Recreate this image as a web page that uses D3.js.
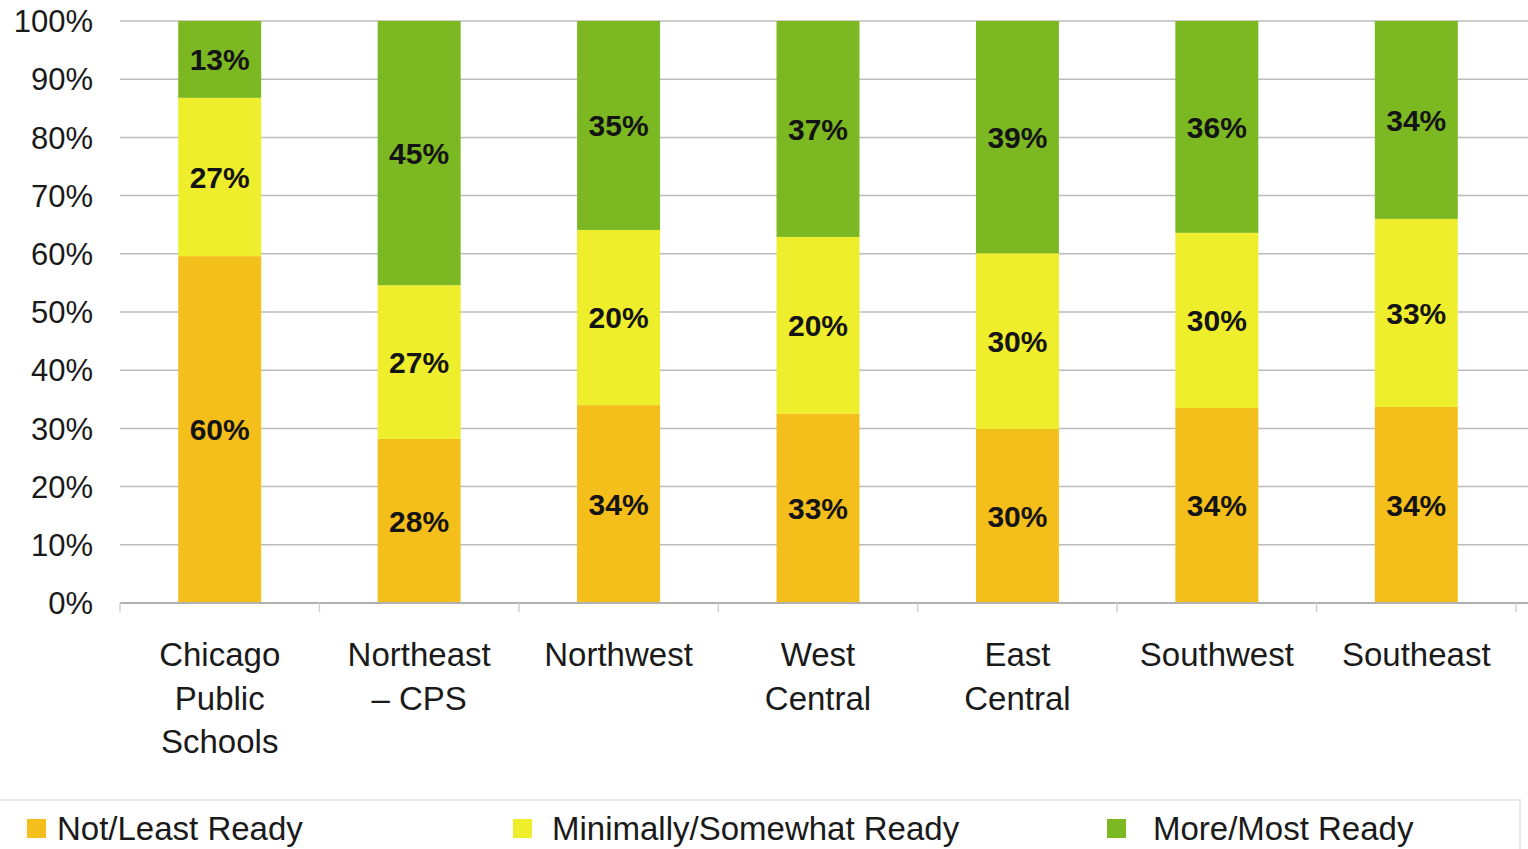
<!DOCTYPE html>
<html>
<head>
<meta charset="utf-8">
<script src="https://cdn.jsdelivr.net/npm/d3@7"></script>
<style>
  html, body { margin: 0; padding: 0; background: #fff; }
  svg { display: block; font-family: "Liberation Sans", Arial, sans-serif; }
</style>
</head>
<body>
<svg id="chart" width="1528" height="849"></svg>
<script>
// categories, each line of the axis label
var categories = ["Chicago Public Schools", "Northeast – CPS", "Northwest", "West Central", "East Central", "Southwest", "Southeast"];
var categoryLines = [["Chicago", "Public", "Schools"], ["Northeast", "– CPS"], ["Northwest"], ["West", "Central"], ["East", "Central"], ["Southwest"], ["Southeast"]];

// segment heights (percent)
var notReady = [59.6, 28.2, 34.0, 32.5, 29.9, 33.5, 33.7];
var minimallyReady = [27.2, 26.4, 30.1, 30.4, 30.2, 30.1, 32.3];
var moreReady = [13.2, 45.4, 35.9, 37.1, 39.9, 36.4, 34.0];

// printed labels (as shown on the chart)
var notReadyLabels = ["60%", "28%", "34%", "33%", "30%", "34%", "34%"];
var minimallyLabels = ["27%", "27%", "20%", "20%", "30%", "30%", "33%"];
var moreLabels = ["13%", "45%", "35%", "37%", "39%", "36%", "34%"];

var yTicks = [0, 10, 20, 30, 40, 50, 60, 70, 80, 90, 100];

var seriesNames = ["Not/Least Ready", "Minimally/Somewhat Ready", "More/Most Ready"];
var seriesColors = ["#f5bf1b", "#efee2c", "#7cb822"];

var svg = d3.select("#chart");

var x = d3.scaleBand()
    .domain(categories)
    .range([120, 1516])
    .paddingInner(0.584)
    .paddingOuter(0.292);

var y = d3.scaleLinear()
    .domain([0, 100])
    .range([603, 21]);

// build table for the stack
var table = categories.map(function(c, i) {
  return { cat: c, s0: notReady[i], s1: minimallyReady[i], s2: moreReady[i],
           l0: notReadyLabels[i], l1: minimallyLabels[i], l2: moreLabels[i] };
});
var stack = d3.stack().keys(["s0", "s1", "s2"]);
var layers = stack(table);

// gridlines
svg.append("g")
  .selectAll("line")
  .data(yTicks.filter(function(d) { return d > 0; }))
  .enter().append("line")
    .attr("x1", 120).attr("x2", 1528)
    .attr("y1", function(d) { return y(d); })
    .attr("y2", function(d) { return y(d); })
    .attr("stroke", "#bcbcbc")
    .attr("stroke-width", 1.5);

// y tick labels
svg.append("g")
  .selectAll("text")
  .data(yTicks)
  .enter().append("text")
    .attr("x", 93)
    .attr("y", function(d) { return y(d); })
    .attr("dy", "0.36em")
    .attr("text-anchor", "end")
    .attr("font-size", 31)
    .attr("fill", "#1a1a1a")
    .text(function(d) { return d + "%"; });

// bars
var layer = svg.append("g")
  .selectAll("g")
  .data(layers)
  .enter().append("g")
    .attr("fill", function(d, i) { return seriesColors[i]; });

layer.selectAll("rect")
  .data(function(d) { return d; })
  .enter().append("rect")
    .attr("x", function(d) { return x(d.data.cat); })
    .attr("width", x.bandwidth())
    .attr("y", function(d) { return y(d[1]); })
    .attr("height", function(d) { return y(d[0]) - y(d[1]); });

// data labels
layers.forEach(function(L, k) {
  svg.append("g")
    .selectAll("text")
    .data(L)
    .enter().append("text")
      .attr("x", function(d) { return x(d.data.cat) + x.bandwidth() / 2; })
      .attr("y", function(d) { return (y(d[0]) + y(d[1])) / 2; })
      .attr("dy", "0.36em")
      .attr("text-anchor", "middle")
      .attr("font-size", 30)
      .attr("font-weight", "bold")
      .attr("fill", "#141414")
      .text(function(d) { return d.data["l" + k]; });
});

// baseline axis + ticks between categories
svg.append("line")
  .attr("x1", 120).attr("x2", 1528)
  .attr("y1", y(0)).attr("y2", y(0))
  .attr("stroke", "#b0b0b0")
  .attr("stroke-width", 2);

var bounds = categories.map(function(c) { return x(c) - x.step() * x.paddingOuter(); });
bounds.push(x.range()[1]);
svg.append("g")
  .selectAll("line")
  .data(bounds)
  .enter().append("line")
    .attr("x1", function(d) { return d; })
    .attr("x2", function(d) { return d; })
    .attr("y1", y(0)).attr("y2", y(0) + 9)
    .attr("stroke", "#d0d0d0")
    .attr("stroke-width", 1.5);

// category labels
var catG = svg.append("g")
  .selectAll("text")
  .data(categories)
  .enter().append("text")
    .attr("text-anchor", "middle")
    .attr("font-size", 33)
    .attr("fill", "#1a1a1a");

catG.each(function(c, i) {
  var t = d3.select(this);
  categoryLines[i].forEach(function(line, j) {
    t.append("tspan")
      .attr("x", x(c) + x.bandwidth() / 2)
      .attr("y", 666 + j * 43.5)
      .text(line);
  });
});

// legend
svg.append("rect")
  .attr("x", -2).attr("y", 800)
  .attr("width", 1522).attr("height", 60)
  .attr("fill", "none")
  .attr("stroke", "#e4e4e4")
  .attr("stroke-width", 1.5);

var legendSquareX = [27, 513, 1107];
var legendTextX = [57, 552, 1153];
var leg = svg.append("g")
  .selectAll("g")
  .data(seriesNames)
  .enter().append("g");

leg.append("rect")
  .attr("x", function(d, i) { return legendSquareX[i]; })
  .attr("y", 819)
  .attr("width", 19).attr("height", 19)
  .attr("fill", function(d, i) { return seriesColors[i]; });

leg.append("text")
  .attr("x", function(d, i) { return legendTextX[i]; })
  .attr("y", 840)
  .attr("font-size", 33)
  .attr("fill", "#1a1a1a")
  .text(function(d) { return d; });
</script>
</body>
</html>
